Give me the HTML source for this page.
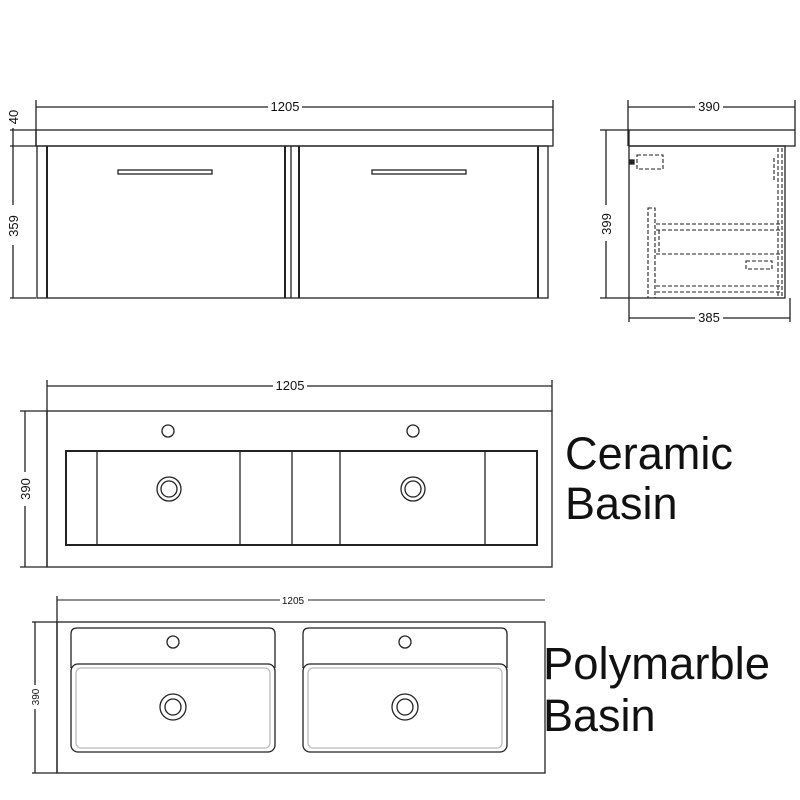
<!DOCTYPE html><html><head><style>body{margin:0;background:#fff}svg{display:block}text{font-family:"Liberation Sans",sans-serif;fill:#111}</style></head><body>
<svg width="800" height="800" viewBox="0 0 800 800" stroke="#222" fill="none" stroke-width="1.3">
<!-- front view -->
<line x1="36" y1="107" x2="553" y2="107"/><line x1="36" y1="100" x2="36" y2="146"/><line x1="553" y1="100" x2="553" y2="130"/>
<rect x="268" y="99" width="34" height="14" fill="#fff" stroke="none"/>
<text x="285" y="111" font-size="13" text-anchor="middle" stroke="none">1205</text>
<rect x="36" y="130" width="517" height="16"/>
<rect x="37" y="146" width="511" height="152"/>
<line x1="47" y1="146" x2="47" y2="298" stroke-width="2"/>
<line x1="285" y1="146" x2="285" y2="298" stroke-width="2"/><line x1="291" y1="146" x2="291" y2="298"/>
<line x1="299" y1="146" x2="299" y2="298" stroke-width="2"/><line x1="538" y1="146" x2="538" y2="298" stroke-width="2"/>
<rect x="118" y="170" width="94" height="4"/><rect x="372" y="170" width="94" height="4"/>
<line x1="13" y1="108" x2="13" y2="298"/>
<line x1="10" y1="130" x2="36" y2="130"/><line x1="10" y1="146" x2="36" y2="146"/><line x1="10" y1="298" x2="36" y2="298"/>
<rect x="6" y="205" width="14" height="40" fill="#fff" stroke="none"/><rect x="6" y="108" width="14" height="20" fill="#fff" stroke="none"/>
<text transform="translate(18,226) rotate(-90)" font-size="13" text-anchor="middle" stroke="none">359</text>
<text transform="translate(18,117) rotate(-90)" font-size="13" text-anchor="middle" stroke="none">40</text>
<!-- side view -->
<line x1="628" y1="107" x2="795" y2="107"/><line x1="628" y1="100" x2="628" y2="146"/><line x1="795" y1="100" x2="795" y2="130"/>
<rect x="695" y="99" width="28" height="14" fill="#fff" stroke="none"/>
<text x="709" y="111" font-size="13" text-anchor="middle" stroke="none">390</text>
<rect x="629" y="130" width="166" height="16"/>
<rect x="629" y="146" width="156" height="152"/>
<line x1="606" y1="130" x2="606" y2="298"/><line x1="600" y1="130" x2="629" y2="130"/><line x1="600" y1="298" x2="629" y2="298"/>
<rect x="599" y="205" width="14" height="36" fill="#fff" stroke="none"/>
<text transform="translate(611,224) rotate(-90)" font-size="13" text-anchor="middle" stroke="none">399</text>
<line x1="629" y1="318" x2="790" y2="318"/><line x1="629" y1="298" x2="629" y2="322"/><line x1="790" y1="298" x2="790" y2="322"/>
<rect x="695" y="310" width="28" height="14" fill="#fff" stroke="none"/>
<text x="709" y="322" font-size="13" text-anchor="middle" stroke="none">385</text>
<g stroke-dasharray="4,2" stroke-width="1.1">
<rect x="637" y="155" width="26" height="14"/><rect x="648" y="208" width="7" height="90"/>
<line x1="656" y1="224" x2="782" y2="224"/><line x1="656" y1="230" x2="782" y2="230"/>
<line x1="656" y1="254" x2="782" y2="254"/><line x1="656" y1="286" x2="782" y2="286"/><line x1="656" y1="292" x2="782" y2="292"/>
<rect x="746" y="261" width="26" height="8"/><line x1="659" y1="230" x2="659" y2="254"/>
<line x1="778" y1="148" x2="778" y2="298"/><line x1="782" y1="148" x2="782" y2="298"/><line x1="774" y1="158" x2="774" y2="182"/>
</g>
<rect x="630" y="160" width="4" height="4" fill="#222"/>
<!-- ceramic -->
<line x1="47" y1="386" x2="552" y2="386"/><line x1="47" y1="380" x2="47" y2="567"/><line x1="552" y1="380" x2="552" y2="411"/>
<rect x="273" y="378" width="34" height="14" fill="#fff" stroke="none"/>
<text x="290" y="390" font-size="13" text-anchor="middle" stroke="none">1205</text>
<rect x="47" y="411" width="505" height="156"/>
<line x1="25" y1="411" x2="25" y2="567"/><line x1="20" y1="411" x2="47" y2="411"/><line x1="20" y1="567" x2="47" y2="567"/>
<rect x="18" y="472" width="14" height="34" fill="#fff" stroke="none"/>
<text transform="translate(30,489) rotate(-90)" font-size="13" text-anchor="middle" stroke="none">390</text>
<rect x="66" y="451" width="471" height="94" stroke-width="2"/>
<line x1="97" y1="451" x2="97" y2="545"/><line x1="240" y1="451" x2="240" y2="545"/><line x1="292" y1="451" x2="292" y2="545"/><line x1="340" y1="451" x2="340" y2="545"/><line x1="485" y1="451" x2="485" y2="545"/>
<circle cx="168" cy="431" r="6"/><circle cx="413" cy="431" r="6"/>
<circle cx="169" cy="489" r="12"/><circle cx="169" cy="489" r="8"/><circle cx="413" cy="489" r="12"/><circle cx="413" cy="489" r="8"/>
<!-- polymarble -->
<line x1="57" y1="600" x2="545" y2="600" stroke-width="1"/><line x1="57" y1="596" x2="57" y2="773"/>
<rect x="280" y="593" width="28" height="12" fill="#fff" stroke="none"/>
<text x="293" y="604" font-size="10" text-anchor="middle" stroke="none">1205</text>
<rect x="57" y="622" width="488" height="151"/>
<line x1="35" y1="622" x2="35" y2="773"/><line x1="32" y1="622" x2="57" y2="622"/><line x1="32" y1="773" x2="57" y2="773"/>
<rect x="28" y="685" width="12" height="24" fill="#fff" stroke="none"/>
<text transform="translate(39,697) rotate(-90)" font-size="10" text-anchor="middle" stroke="none">390</text>
<g>
<path d="M71 668 V634 Q71 628 77 628 H269 Q275 628 275 634 V668"/>
<rect x="71" y="664" width="204" height="88" rx="7"/><rect x="76" y="668" width="194" height="80" rx="5" stroke="#bbb"/>
<circle cx="173" cy="642" r="6"/><circle cx="173" cy="707" r="13"/><circle cx="173" cy="707" r="8"/>
<path d="M303 668 V634 Q303 628 309 628 H501 Q507 628 507 634 V668"/>
<rect x="303" y="664" width="204" height="88" rx="7"/><rect x="308" y="668" width="194" height="80" rx="5" stroke="#bbb"/>
<circle cx="405" cy="642" r="6"/><circle cx="405" cy="707" r="13"/><circle cx="405" cy="707" r="8"/>
</g>
<g stroke="none"><text x="565" y="469" font-size="45" textLength="168" lengthAdjust="spacingAndGlyphs">Ceramic</text><text x="565" y="519" font-size="45">Basin</text>
<text x="543" y="679" font-size="45" textLength="227" lengthAdjust="spacingAndGlyphs">Polymarble</text><text x="543" y="731" font-size="45">Basin</text></g>
</svg></body></html>
